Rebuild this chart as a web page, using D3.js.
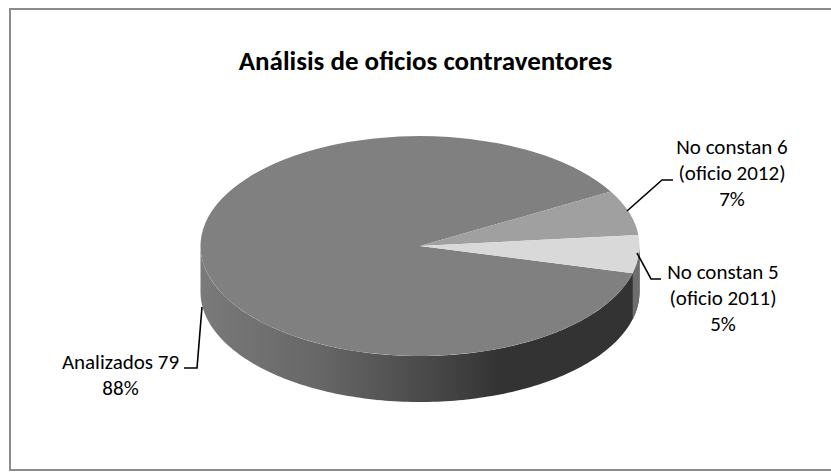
<!DOCTYPE html>
<html><head><meta charset="utf-8">
<script src="https://cdn.jsdelivr.net/npm/d3@7"></script>
<style>html,body{margin:0;padding:0;background:#fff}svg{display:block}text{font-family:Carlito,Calibri,"Open Sans","Noto Sans",sans-serif;fill:#000}</style>
</head><body><script>
const categories=["Analizados 79","No constan 6 (oficio 2012)","No constan 5 (oficio 2011)"];
const values=[79,6,5];
const colors=["#808080","#a0a0a0","#d9d9d9"];
const titleText="Análisis de oficios contraventores";
const labelLines=[["Analizados 79","88%"],["No constan 6","(oficio 2012)","7%"],["No constan 5","(oficio 2011)","5%"]];
const wallStops=[[0,"#7a7a7a"],[0.28,"#666666"],[0.55,"#454545"],[0.68,"#333333"],[1,"#333333"]];

const W=831,H=473,cx=420,cy=246,rx=219.5,ry=110,depth=46;
const svg=d3.select("body").append("svg").attr("width",W).attr("height",H);
svg.append("path").attr("d","M"+(W+2)+",9H10V470H"+(W+2)).attr("fill","none").attr("stroke","#8c8c8c").attr("stroke-width",2);

const start=(90+14.3)*Math.PI/180;
const arcs=d3.pie().sort(null).startAngle(start).endAngle(start+2*Math.PI)(values);
const arc=d3.arc().innerRadius(0).outerRadius(1);
const sx=d3.scaleLinear().domain([-1,1]).range([cx-rx,cx+rx]);
const sy=d3.scaleLinear().domain([-1,1]).range([cy-ry,cy+ry]);

const grad=svg.append("defs").append("linearGradient").attr("id","wall");
wallStops.forEach(s=>grad.append("stop").attr("offset",s[0]).attr("stop-color",s[1]));

const rim=(a0,a1,n=80)=>{
  const ang=d3.range(n+1).map(i=>a0+(a1-a0)*i/n);
  const top=ang.map(a=>[sx(Math.sin(a)),sy(-Math.cos(a))]);
  const bot=ang.map(a=>[sx(Math.sin(a)),sy(-Math.cos(a))+depth]).reverse();
  return d3.line()(top.concat(bot))+"Z";
};
svg.append("path").attr("d",rim(Math.PI/2,Math.PI*1.5,160)).attr("fill","url(#wall)");
svg.append("path").attr("d",rim(Math.PI/2,start,20)).attr("fill","#6e6e6e");

svg.append("g").selectAll("path").data(arcs).join("path")
 .attr("transform",`translate(${cx},${cy}) scale(${rx},${ry})`)
 .attr("d",arc).attr("fill",(d,i)=>colors[i]);

svg.append("text").attr("x",425.5).attr("y",70).attr("text-anchor","middle")
 .attr("font-size",27).attr("font-weight",700).text(titleText);

const leaders=[[[202,307],[197,368],[184,368]],[[627,211],[662,180],[673,180]],[[637,253],[651,279],[661,279]]];
svg.append("g").selectAll("path").data(leaders).join("path")
 .attr("d",d3.line()).attr("fill","none").attr("stroke","#000").attr("stroke-width",1.6);

const labelPos=[[120.5,369],[732,154],[723,279]];
labelLines.forEach((lines,i)=>{
  const t=svg.append("text").attr("text-anchor","middle").attr("font-size",21);
  lines.forEach((l,j)=>t.append("tspan").attr("x",labelPos[i][0]).attr("y",labelPos[i][1]+j*26).text(l));
});
</script></body></html>
